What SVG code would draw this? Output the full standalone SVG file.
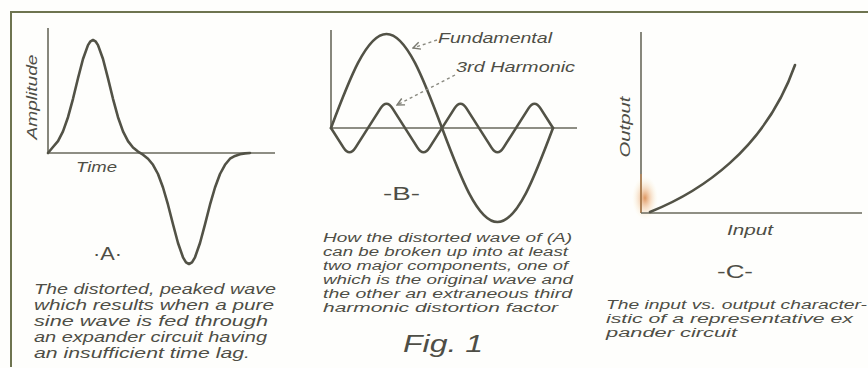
<svg xmlns="http://www.w3.org/2000/svg" width="868" height="368" viewBox="0 0 868 368">
  <style>
    .ax { fill: none; stroke: #6a6a5c; stroke-width: 1.6; }
    .cv { fill: none; stroke: #525246; stroke-width: 2.6; stroke-linejoin: round; stroke-linecap: round; }
    .t { font-family: "Liberation Sans", Arial, sans-serif; font-style: italic; fill: #4e4e46; }
    .cap { font-size: 14px; }
    .capb { font-size: 12.5px; }
    .lab { font-size: 14px; }
    .let { font-family: "Liberation Sans", Arial, sans-serif; font-size: 18px; fill: #4e4e46; }
    .dash { fill: none; stroke: #8a8a80; stroke-width: 1.4; stroke-dasharray: 3 3; }
  </style>
  <defs>
    <marker id="ah" viewBox="0 0 10 10" refX="9" refY="5" markerWidth="9" markerHeight="9" markerUnits="userSpaceOnUse" orient="auto">
      <path d="M1,1 L9,5 L1,9" fill="none" stroke="#7a7a70" stroke-width="1.6"/>
    </marker>
    <radialGradient id="stain" cx="0.5" cy="0.5" r="0.5">
      <stop offset="0" stop-color="#d06a1e" stop-opacity="0.7"/>
      <stop offset="0.45" stop-color="#e8a060" stop-opacity="0.35"/>
      <stop offset="1" stop-color="#f8eec0" stop-opacity="0"/>
    </radialGradient>
  </defs>
  <rect width="868" height="368" fill="#fefefc"/>

  <g id="frame">
    <path d="M10,12 H868 M11,12 V367" fill="none" stroke="#6e7450" stroke-width="2"/>
  </g>

  <g id="panel-a">
    <path class="ax" d="M48,28 V153 H275"/>
    <polyline class="cv" points="48,153 53,147 58,141.1 63,131.4 68,117.2 73,98.8 78,78.3 83,59 88,45.1 90.5,41.3 93,40 95.5,41.3 98,45.1 103,59 108,78.3 113,98.8 118,117.2 123,131.4 128,141.1 133,147.5 138,151.6 143,154.7 148,158.7 153,164.8 158,174 163,187.5 168,204.7 173,224.3 178,243 183,257.3 186,262.3 189,264 192,262.3 195,257.3 200,243 205,224.3 210,204.7 215,187.5 220,174 225,164.8 230,158.7 235,155.9 240,154.2 245,153.4 250,153"/>
    <text class="t lab" transform="translate(37,97) rotate(-90)" text-anchor="middle" textLength="85" lengthAdjust="spacingAndGlyphs">Amplitude</text>
    <text class="t lab" x="76" y="172" textLength="41" lengthAdjust="spacingAndGlyphs">Time</text>
    <text class="let" x="93" y="260" textLength="29" lengthAdjust="spacingAndGlyphs">·A·</text>
    <text class="t cap" x="34" y="294" textLength="242" lengthAdjust="spacingAndGlyphs">The distorted, peaked wave</text>
    <text class="t cap" x="34" y="310" textLength="240" lengthAdjust="spacingAndGlyphs">which results when a pure</text>
    <text class="t cap" x="34" y="326" textLength="234" lengthAdjust="spacingAndGlyphs">sine wave is fed through</text>
    <text class="t cap" x="34" y="342" textLength="233" lengthAdjust="spacingAndGlyphs">an expander circuit having</text>
    <text class="t cap" x="34" y="358" textLength="216" lengthAdjust="spacingAndGlyphs">an insufficient time lag.</text>
  </g>

  <g id="panel-b">
    <path class="ax" d="M331,30 V128 H577"/>
    <path id="fundamental-wave" class="cv" d="M331,128 C349.1,79.85 366.4,34 386.5,34 C406.6,34 423.9,79.85 442,128 C460.1,176.15 477.4,222 497.5,222 C517.6,222 534.9,176.15 553,128"/>
    <path id="harmonic-wave" class="cv" d="M331,128 L343.5,147.6 Q349.5,157 355.5,147.6 L380.5,108.4 Q386.5,99 392.5,108.4 L417.5,147.6 Q423.5,157 429.5,147.6 L454.5,108.4 Q460.5,99 466.5,108.4 L491.5,147.6 Q497.5,157 503.5,147.6 L528.5,108.4 Q534.5,99 540.5,108.4 L553,128"/>
    <text class="t" x="438" y="43" font-size="15" textLength="114" lengthAdjust="spacingAndGlyphs">Fundamental</text>
    <text class="t" x="456" y="72" font-size="15" textLength="119" lengthAdjust="spacingAndGlyphs">3rd Harmonic</text>
    <text class="let" x="383" y="200" textLength="37" lengthAdjust="spacingAndGlyphs">-B-</text>
    <text class="t capb" x="323" y="242" textLength="249" lengthAdjust="spacingAndGlyphs">How the distorted wave of (A)</text>
    <text class="t capb" x="323" y="256" textLength="245" lengthAdjust="spacingAndGlyphs">can be broken up into at least</text>
    <text class="t capb" x="323" y="270" textLength="245" lengthAdjust="spacingAndGlyphs">two major components, one of</text>
    <text class="t capb" x="323" y="284" textLength="250" lengthAdjust="spacingAndGlyphs">which is the original wave and</text>
    <text class="t capb" x="323" y="298" textLength="249" lengthAdjust="spacingAndGlyphs">the other an extraneous third</text>
    <text class="t capb" x="323" y="312" textLength="235" lengthAdjust="spacingAndGlyphs">harmonic distortion factor</text>
    <text class="t" x="403" y="352" font-size="24" textLength="80" lengthAdjust="spacingAndGlyphs">Fig. 1</text>
  </g>

  <g id="connectors">
    <path class="dash" d="M437,40 L413,48" marker-end="url(#ah)"/>
    <path class="dash" d="M455,75 L397,105" marker-end="url(#ah)"/>
  </g>

  <g id="panel-c">
    <ellipse cx="645" cy="198" rx="13" ry="22" fill="url(#stain)"/>
    <path class="ax" d="M641,32 V174"/>
    <path d="M641,174 V213" fill="none" stroke="#9a6a3a" stroke-width="1.6"/>
    <path class="ax" d="M641,213 H862"/>
    <path class="cv" d="M650,212 C700,192 765,150 795,65"/>
    <text class="t lab" transform="translate(630,127) rotate(-90)" text-anchor="middle" textLength="61" lengthAdjust="spacingAndGlyphs">Output</text>
    <text class="t lab" x="727" y="235" textLength="46" lengthAdjust="spacingAndGlyphs">Input</text>
    <text class="let" x="717" y="278" textLength="36" lengthAdjust="spacingAndGlyphs">-C-</text>
    <text class="t capb" x="606" y="309" textLength="261" lengthAdjust="spacingAndGlyphs">The input vs. output character-</text>
    <text class="t capb" x="606" y="323" textLength="247" lengthAdjust="spacingAndGlyphs">istic of a representative ex</text>
    <text class="t capb" x="606" y="337" textLength="131" lengthAdjust="spacingAndGlyphs">pander circuit</text>
  </g>
</svg>
